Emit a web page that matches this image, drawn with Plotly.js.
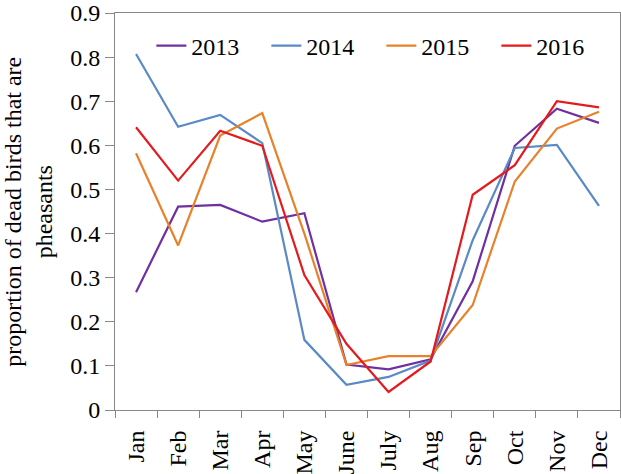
<!DOCTYPE html>
<html>
<head>
<meta charset="utf-8">
<script src="https://cdn.plot.ly/plotly-3.0.1.min.js"></script>
<style>html,body{margin:0;padding:0;background:#fff;}#chart{width:621px;height:474px;}</style>
</head>
<body>
<div id="chart"></div>
<script>
const months = ["Jan","Feb","Mar","Apr","May","June","July","Aug","Sep","Oct","Nov","Dec"];
const y2013 = [0.267,0.461,0.465,0.427,0.446,0.103,0.092,0.115,0.292,0.599,0.683,0.651];
const y2014 = [0.807,0.642,0.669,0.605,0.159,0.057,0.075,0.112,0.385,0.594,0.601,0.463];
const y2015 = [0.582,0.373,0.622,0.673,0.400,0.102,0.122,0.122,0.238,0.518,0.638,0.676];
const y2016 = [0.641,0.520,0.633,0.599,0.306,0.150,0.041,0.110,0.488,0.555,0.700,0.686];
const seriesNames = ["2013","2014","2015","2016"];
const seriesColors = ["#7030A0","#5A8AC6","#E8822A","#E41A1C"];
const seriesData = [y2013,y2014,y2015,y2016];

const font = "Liberation Serif";
const traces = seriesData.map((d,i)=>({
  x: months, y: d, type: "scatter", mode: "lines", name: seriesNames[i],
  line: {color: seriesColors[i], width: 2.2}
}));

const layout = {
  width: 621, height: 474,
  margin: {l: 115, r: 1, t: 13, b: 64},
  paper_bgcolor: "#fff", plot_bgcolor: "#fff",
  font: {family: font, size: 24, color: "#000"},
  showlegend: true,
  legend: {orientation: "h", x: 0.072, y: 0.917, xanchor: "left", yanchor: "middle",
    bgcolor: "rgba(0,0,0,0)", entrywidth: 70, entrywidthmode: "pixels",
    font: {family: font, size: 24, color: "#000"}},
  xaxis: {type: "category", range: [-0.5, 11.5], tickson: "boundaries",
    ticks: "outside", ticklen: 7, tickcolor: "#888", tickwidth: 1,
    ticklabelstandoff: 10,
    showline: true, linecolor: "#888", linewidth: 1, mirror: true,
    showgrid: false, zeroline: false, tickangle: -90,
    tickfont: {family: font, size: 24, color: "#000"}},
  yaxis: {range: [0, 0.9], dtick: 0.1, tick0: 0,
    ticks: "outside", ticklen: 9, tickcolor: "#888", tickwidth: 1,
    showline: true, linecolor: "#888", linewidth: 1, mirror: true,
    showgrid: false, zeroline: false,
    tickfont: {family: font, size: 24, color: "#000"}},
  annotations: [{
    text: "proportion of dead birds that are<br>pheasants",
    xref: "paper", yref: "paper", x: -0.172, y: 0.50,
    xanchor: "center", yanchor: "middle", textangle: -90, showarrow: false,
    font: {family: font, size: 24, color: "#000"}
  }]
};
Plotly.newPlot("chart", traces, layout, {displayModeBar: false, staticPlot: true});
</script>
</body>
</html>
